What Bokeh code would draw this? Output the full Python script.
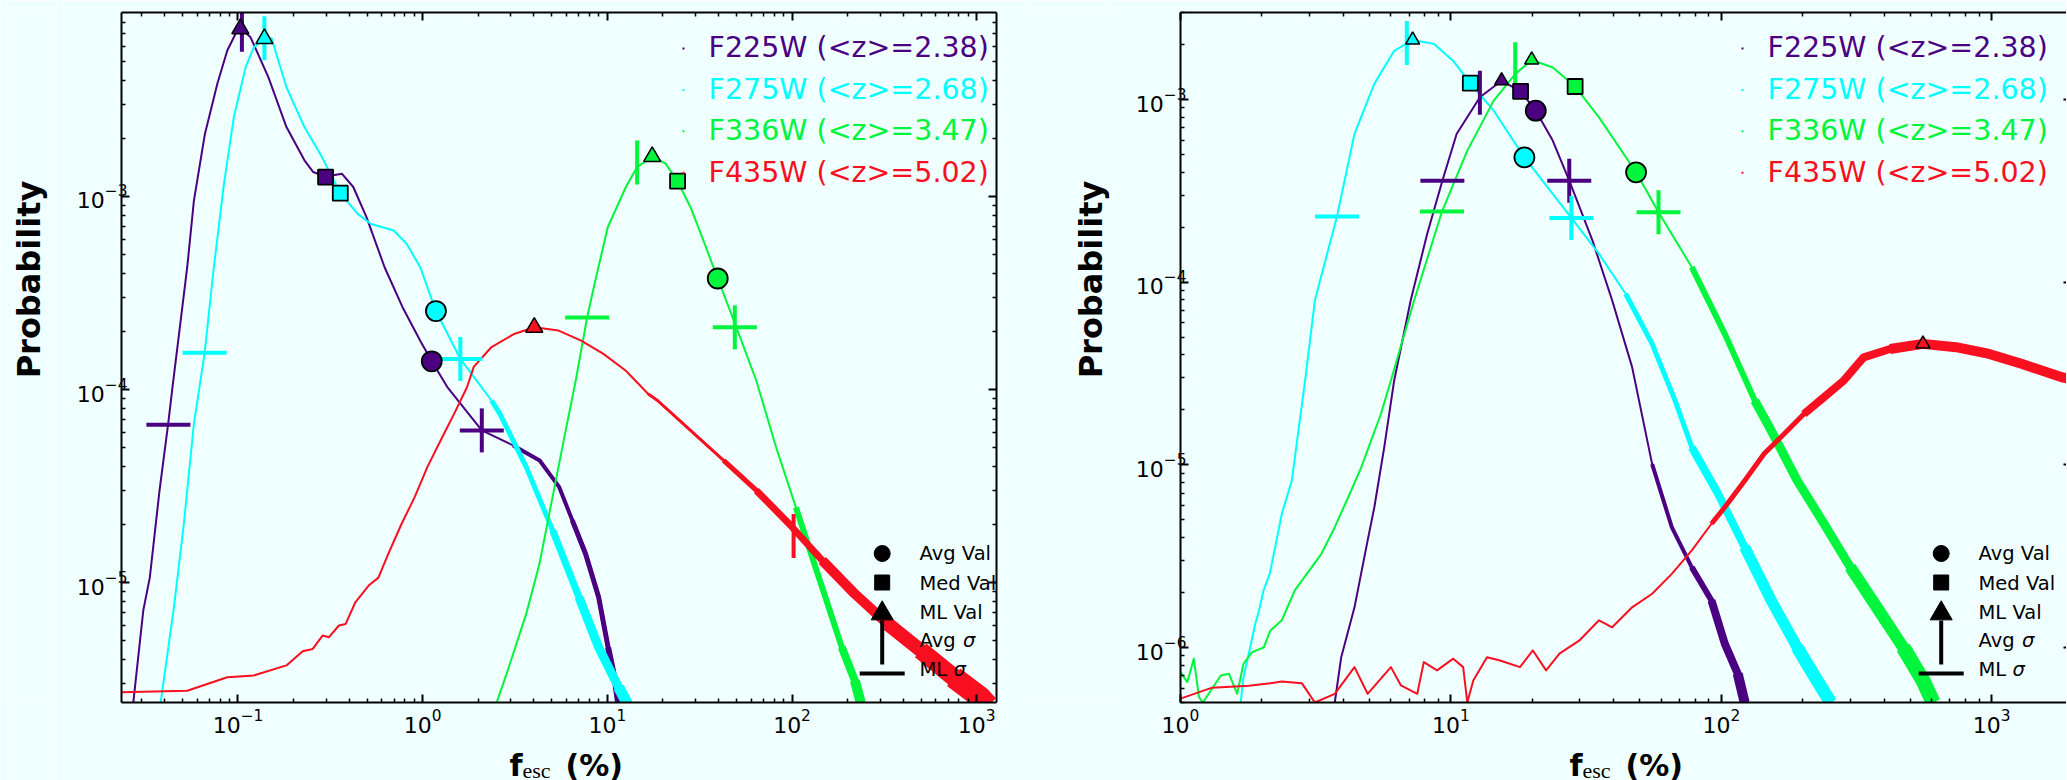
import math
from bokeh.plotting import figure
from bokeh.layouts import row, column
from bokeh.models import Range1d, LogAxis, FixedTicker, Label, BoxAnnotation
from bokeh.embed import file_html
from bokeh.resources import INLINE

# ---------------------------------------------------------------- filters
FILTERS = ["F225W", "F275W", "F336W", "F435W"]
Z_MEAN = [2.38, 2.68, 3.47, 5.02]
COLORS = ["#4B0082", "#00FFFF", "#00F53C", "#F81020"]
COLOR = dict(zip(FILTERS, COLORS))

# ---------------------------------------------------------------- left panel curves
L_F225W_X = [0.0271, 0.0307, 0.0333, 0.0376, 0.0419, 0.0441, 0.0531, 0.0577, 0.0662, 0.0773,
             0.0875, 0.099, 0.105, 0.117, 0.146, 0.183, 0.229, 0.255, 0.298, 0.366, 0.421,
             0.497, 0.622, 0.778, 0.97, 1.12, 1.36, 2.09, 3.09, 4.3, 5.49, 6.46, 7.62, 8.97,
             10.1, 11.0, 11.5]
L_F225W_Y = [2.38e-6, 7.16e-6, 1.06e-5, 3.0e-5, 6.67e-5, 1.01e-4, 4.3e-4, 9.5e-4, 2.11e-3, 3.84e-3,
             5.71e-3, 7.24e-3, 7.35e-3, 6.68e-3, 4.15e-3, 2.29e-3, 1.54e-3, 1.34e-3, 1.27e-3, 1.31e-3,
             1.12e-3, 7.8e-4, 4.3e-4, 2.67e-4, 1.79e-4, 1.40e-4, 1.03e-4, 6.14e-5, 5.13e-5, 4.29e-5,
             3.12e-5, 2.1e-5, 1.41e-5, 8.4e-6, 4.6e-6, 3.1e-6, 2.3e-6]

L_F275W_X = [0.0381, 0.045, 0.0509, 0.0577, 0.066, 0.074, 0.0839, 0.095, 0.11, 0.122, 0.139,
             0.152, 0.183, 0.229, 0.285, 0.358, 0.445, 0.526, 0.696, 0.819, 0.97, 1.18, 1.60,
             2.36, 2.62, 3.64, 5.06, 7.02, 8.97, 11.5, 13.0]
L_F275W_Y = [2.38e-6, 7.45e-6, 2.01e-5, 6.64e-5, 1.55e-4, 4.3e-4, 1.16e-3, 2.58e-3, 4.68e-3, 5.94e-3,
             6.57e-3, 6.6e-3, 3.68e-3, 2.29e-3, 1.6e-3, 1.04e-3, 8.13e-4, 7.2e-4, 6.67e-4, 5.69e-4,
             4.3e-4, 2.55e-4, 1.44e-4, 8.77e-5, 7.48e-5, 3.96e-5, 1.86e-5, 8.4e-6, 4.62e-6, 2.87e-6,
             2.3e-6]

L_F336W_X = [2.52, 2.85, 3.64, 4.29, 5.05, 5.95, 6.74, 7.77, 8.53, 10.05, 12.6, 14.5, 17.5, 20.7,
             24.0, 28.2, 32.1, 39.6, 48.2, 64.1, 82.0, 105, 134, 158, 186, 219, 238]
L_F336W_Y = [2.4e-6, 3.37e-6, 6.9e-6, 1.25e-5, 2.77e-5, 6.14e-5, 1.11e-4, 2.36e-4, 3.53e-4, 6.93e-4,
             1.12e-3, 1.42e-3, 1.61e-3, 1.48e-3, 1.2e-3, 8.8e-4, 6.41e-4, 3.76e-4, 2.3e-4, 1.11e-4,
             5.02e-5, 2.45e-5, 1.2e-5, 7.45e-6, 4.62e-6, 3.1e-6, 2.3e-6]

L_F435W_X = [0.0234, 0.0531, 0.0875, 0.1215, 0.183, 0.224, 0.254, 0.287, 0.311, 0.352, 0.383,
             0.432, 0.51, 0.576, 0.652, 0.768, 0.905, 1.06, 1.25, 1.48, 1.74, 1.89, 2.36, 3.13,
             4.02, 5.45, 7.21, 9.52, 12.6, 16.6, 18.7, 28.2, 42.6, 64.1, 96.6, 146, 219, 330,
             497, 750, 1040, 1150]
L_F435W_Y = [2.7e-6, 2.75e-6, 3.23e-6, 3.3e-6, 3.72e-6, 4.41e-6, 4.53e-6, 5.31e-6, 5.21e-6, 5.99e-6,
             6.1e-6, 7.9e-6, 9.65e-6, 1.06e-5, 1.41e-5, 2.01e-5, 2.77e-5, 3.96e-5, 5.44e-5, 7.48e-5,
             1.03e-4, 1.31e-4, 1.66e-4, 1.94e-4, 2.1e-4, 2.02e-4, 1.79e-4, 1.53e-4, 1.25e-4, 9.5e-5,
             8.77e-5, 6.14e-5, 4.29e-5, 3.0e-5, 2.01e-5, 1.3e-5, 8.73e-6, 6.1e-6, 4.45e-6, 3.23e-6,
             2.55e-6, 2.3e-6]

# ---------------------------------------------------------------- left panel statistics
L_AVG_F = ["F225W", "F275W", "F336W"]
L_AVG_X = [1.12, 1.18, 39.6]
L_AVG_Y = [1.40e-4, 2.55e-4, 3.76e-4]

L_MED_F = ["F225W", "F275W", "F336W"]
L_MED_X = [0.298, 0.358, 24.0]
L_MED_Y = [1.26e-3, 1.04e-3, 1.2e-3]

L_ML_F = ["F225W", "F275W", "F336W", "F435W"]
L_ML_X = [0.103, 0.139, 17.5, 4.02]
L_ML_Y = [7.4e-3, 6.57e-3, 1.61e-3, 2.1e-4]

L_ASIG_F = ["F225W", "F225W", "F275W", "F275W", "F336W", "F336W", "F435W"]
L_ASIG_X = [0.105, 2.09, 0.139, 1.60, 14.5, 49.0, 102]
L_ASIG_Y = [7.3e-3, 6.14e-5, 6.6e-3, 1.44e-4, 1.5e-3, 2.1e-4, 1.74e-5]

L_MSIG_F = ["F225W", "F225W", "F275W", "F275W", "F336W", "F336W"]
L_MSIG_X = [0.042, 2.09, 0.066, 1.60, 7.77, 49.0]
L_MSIG_Y = [6.56e-5, 6.14e-5, 1.55e-4, 1.44e-4, 2.36e-4, 2.1e-4]

# ---------------------------------------------------------------- right panel curves
R_F225W_X = [3.72, 3.93, 4.4, 4.92, 5.21, 5.67, 6.17, 7.1, 8.17, 9.3, 10.5, 12.8, 15.4, 18.1,
             20.6, 23.8, 27.4, 33.4, 39.5, 46.8, 55.5, 65.6, 77.8, 92.0, 103, 115, 122]
R_F225W_Y = [5.0e-7, 8.85e-7, 1.66e-6, 3.85e-6, 5.86e-6, 1.25e-5, 2.9e-5, 7.94e-5, 1.84e-4, 3.6e-4,
             6.49e-4, 1.03e-3, 1.27e-3, 1.11e-3, 8.7e-4, 5.97e-4, 3.6e-4, 1.69e-4, 7.94e-5, 3.43e-5,
             1.01e-5, 4.56e-6, 2.75e-6, 1.81e-6, 1.05e-6, 7.2e-7, 5.0e-7]

R_F275W_X = [1.67, 1.71, 1.81, 1.89, 1.94, 2.03, 2.14, 2.37, 2.58, 2.73, 2.89, 3.14, 3.79, 4.4,
             5.21, 6.17, 7.22, 8.65, 10.2, 11.8, 14.4, 18.7, 23.8, 27.9, 35.3, 44.3, 55.5, 67.5,
             77.8, 97.3, 122, 153, 191, 226, 254]
R_F275W_Y = [5.02e-7, 6.88e-7, 1.0e-6, 1.35e-6, 1.54e-6, 2.06e-6, 2.54e-6, 5.4e-6, 8.2e-6, 1.54e-5,
             2.9e-5, 7.94e-5, 2.29e-4, 6.49e-4, 1.22e-3, 1.85e-3, 2.12e-3, 2.02e-3, 1.63e-3, 1.23e-3,
             8.7e-4, 4.83e-4, 3.05e-4, 2.25e-4, 1.43e-4, 8.65e-5, 4.6e-5, 2.25e-5, 1.25e-5, 6.95e-6,
             3.55e-6, 1.81e-6, 1.0e-6, 6.6e-7, 5.0e-7]

R_F336W_X = [1.0, 1.06, 1.12, 1.17, 1.21, 1.41, 1.51, 1.62, 1.71, 1.84, 2.03, 2.15, 2.37, 2.65,
             3.32, 3.72, 4.28, 4.66, 5.51, 6.0, 7.31, 9.27, 11.5, 14.4, 17.3, 19.9, 23.8, 28.8,
             35.3, 48.4, 58.6, 77.8, 103, 133, 153, 191, 240, 300, 376, 471, 557, 607]
R_F336W_Y = [7.33e-7, 6.47e-7, 8.69e-7, 5.36e-7, 5.0e-7, 7.03e-7, 7.19e-7, 5.58e-7, 8.15e-7, 9.44e-7,
             1.0e-6, 1.24e-6, 1.41e-6, 2.06e-6, 3.26e-6, 4.56e-6, 7.24e-6, 9.7e-6, 1.9e-5, 2.9e-5,
             7.94e-5, 2.44e-4, 5.26e-4, 9.88e-4, 1.38e-3, 1.65e-3, 1.5e-3, 1.18e-3, 8.0e-4, 4.0e-4,
             2.42e-4, 1.21e-4, 5.22e-5, 2.25e-5, 1.54e-5, 8.2e-6, 4.76e-6, 2.75e-6, 1.66e-6, 1.0e-6,
             6.6e-7, 5.0e-7]

R_F435W_X = [1.0, 1.31, 1.79, 2.15, 2.37, 2.81, 3.14, 3.72, 4.4, 4.92, 6.0, 6.53, 7.51, 7.94,
             8.89, 10.2, 11.1, 11.5, 12.1, 13.6, 15.2, 18.0, 20.1, 22.5, 25.2, 29.8, 35.3, 39.5,
             46.8, 55.5, 65.6, 77.8, 92.0, 103, 122, 144, 171, 202, 240, 284, 336, 421, 557, 738,
             979, 1297, 1818, 1900]
R_F435W_Y = [5.25e-7, 6.03e-7, 6.18e-7, 6.38e-7, 6.52e-7, 6.38e-7, 5.0e-7, 5.58e-7, 7.81e-7, 5.58e-7,
             7.81e-7, 6.21e-7, 5.58e-7, 8.32e-7, 7.5e-7, 8.69e-7, 7.81e-7, 5.0e-7, 6.6e-7, 8.85e-7,
             8.49e-7, 7.81e-7, 9.64e-7, 7.5e-7, 9.25e-7, 1.09e-6, 1.41e-6, 1.29e-6, 1.66e-6, 1.97e-6,
             2.53e-6, 3.4e-6, 4.76e-6, 5.86e-6, 8.2e-6, 1.15e-5, 1.48e-5, 1.9e-5, 2.35e-5, 2.9e-5,
             3.88e-5, 4.31e-5, 4.6e-5, 4.41e-5, 4.05e-5, 3.57e-5, 3.02e-5, 2.98e-5]

# ---------------------------------------------------------------- right panel statistics
R_AVG_F = ["F225W", "F275W", "F336W"]
R_AVG_X = [20.6, 18.7, 48.4]
R_AVG_Y = [8.7e-4, 4.83e-4, 4.0e-4]

R_MED_F = ["F225W", "F275W", "F336W"]
R_MED_X = [18.1, 11.8, 28.8]
R_MED_Y = [1.11e-3, 1.23e-3, 1.18e-3]

R_ML_F = ["F225W", "F275W", "F336W", "F435W"]
R_ML_X = [15.4, 7.22, 19.9, 557]
R_ML_Y = [1.27e-3, 2.12e-3, 1.65e-3, 4.6e-5]

R_ASIG_F = ["F225W", "F225W", "F275W", "F275W", "F336W", "F336W"]
R_ASIG_X = [12.8, 27.4, 6.87, 27.9, 17.3, 58.6]
R_ASIG_Y = [1.09e-3, 3.6e-4, 2.04e-3, 2.25e-4, 1.56e-3, 2.42e-4]

R_MSIG_F = ["F225W", "F225W", "F275W", "F275W", "F336W", "F336W"]
R_MSIG_X = [9.3, 27.4, 3.79, 27.9, 9.27, 58.6]
R_MSIG_Y = [3.6e-4, 3.6e-4, 2.29e-4, 2.25e-4, 2.44e-4, 2.42e-4]

KEY_LABELS = ["Avg Val", "Med Val", "ML Val", "Avg", "ML"]

# ---------------------------------------------------------------- styling
BG = "#F0FFFF"
FRAME_H = 690
FIG_H = 780
TITLE_H = 100          # transparent strip laid over the bottom of the plots
FONT = "DejaVu Sans"


def decade_ticker(lo, hi):
    majors = [10.0 ** k for k in range(lo, hi + 1)]
    minors = [m * 10.0 ** k for k in range(lo - 1, hi + 1) for m in range(2, 10)]
    return FixedTicker(ticks=majors, minor_ticks=minors)


def style_axis(ax, lo, hi, labels, tick_in=8, minor_in=4, line=True, standoff=8):
    ax.ticker = decade_ticker(lo, hi)
    ax.major_tick_in = tick_in
    ax.major_tick_out = 0
    ax.minor_tick_in = minor_in
    ax.minor_tick_out = 0
    ax.major_tick_line_width = 2
    ax.minor_tick_line_width = 1.5
    ax.major_tick_line_color = "black"
    ax.minor_tick_line_color = "black"
    ax.axis_line_width = 2
    ax.axis_line_color = "black" if line else None
    if labels:
        ax.major_label_text_font = FONT
        ax.major_label_text_font_size = "22px"
        ax.major_label_text_color = "black"
        ax.major_label_standoff = standoff
    else:
        ax.major_label_text_font_size = "0px"
        ax.major_label_text_alpha = 0
        ax.major_label_standoff = 0


def make_panel(xr, yr, frame_w, border_left, border_right, xdec, ydec, right_edge_cut):
    p = figure(x_axis_type="log", y_axis_type="log",
               x_range=Range1d(*xr), y_range=Range1d(*yr),
               frame_width=frame_w, frame_height=FRAME_H,
               min_border_left=border_left, min_border_right=border_right,
               min_border_top=12, min_border_bottom=FIG_H - 12 - FRAME_H,
               background_fill_color=BG, border_fill_color=BG,
               outline_line_color=None, toolbar_location=None,
               output_backend="svg")
    p.grid.visible = False
    style_axis(p.xaxis[0], *xdec, labels=True, standoff=6)
    style_axis(p.yaxis[0], *ydec, labels=True, standoff=-6)
    top = LogAxis()
    style_axis(top, *xdec, labels=False)
    p.add_layout(top, "above")
    right = LogAxis()
    if right_edge_cut:
        style_axis(right, *ydec, labels=False, tick_in=3, minor_in=0, line=False)
    else:
        style_axis(right, *ydec, labels=False)
    p.add_layout(right, "right")
    return p


def strip(width, height, transparent=False):
    """A bare figure whose frame covers its whole area, used to hold axis titles."""
    s = figure(width=width, height=height, x_range=Range1d(0, 1), y_range=Range1d(0, 1),
               x_axis_location=None, y_axis_location=None, min_border=0,
               background_fill_color=BG, border_fill_color=BG, outline_line_color=None,
               toolbar_location=None, output_backend="svg")
    s.title.visible = False
    if transparent:
        s.background_fill_alpha = 0
        s.border_fill_alpha = 0
    s.grid.visible = False
    return s


def draw_curves(p, curves, bands):
    for f, (xs, ys) in zip(FILTERS, curves):
        p.line(xs, ys, line_color=COLOR[f], line_width=2, line_join="round")
        for bf, start, width in bands:
            if bf != f:
                continue
            pts = [(x, y) for x, y in zip(xs, ys) if x >= start]
            p.line([q[0] for q in pts], [q[1] for q in pts], line_color=COLOR[f],
                   line_width=width, line_join="round", line_cap="butt")


def draw_stats(p, avg, med, ml, asig, msig, tri_size):
    fs, xs, ys = asig
    p.scatter(xs, ys, marker="dash", angle=math.pi / 2, size=44, line_width=4,
              line_color=[COLOR[f] for f in fs])
    fs, xs, ys = msig
    p.scatter(xs, ys, marker="dash", size=44, line_width=4,
              line_color=[COLOR[f] for f in fs])
    fs, xs, ys = avg
    p.scatter(xs, ys, marker="circle", size=20, line_color="black", line_width=1.8,
              fill_color=[COLOR[f] for f in fs])
    fs, xs, ys = med
    p.scatter(xs, ys, marker="square", size=15, line_color="black", line_width=1.8,
              fill_color=[COLOR[f] for f in fs])
    fs, xs, ys = ml
    p.scatter(xs, ys, marker="triangle", size=tri_size, line_color="black", line_width=1.5,
              fill_color=[COLOR[f] for f in fs])


def frame_point(xr, yr, frame_w, sx, sy_top):
    """Data coordinates of a point given in frame pixels (from left, from top)."""
    lx0, lx1 = math.log10(xr[0]), math.log10(xr[1])
    ly0, ly1 = math.log10(yr[0]), math.log10(yr[1])
    return (10 ** (lx0 + sx / frame_w * (lx1 - lx0)),
            10 ** (ly1 - sy_top / FRAME_H * (ly1 - ly0)))


def decorate(p, xr, yr, frame_w):
    # filter legend, upper right
    for i, (f, z) in enumerate(zip(FILTERS, Z_MEAN)):
        base = 654.7 - 41.4 * i
        p.add_layout(Label(x=587, y=base, x_units="screen", y_units="screen",
                           text=f"{f} (<z>={z:.2f})", text_font=FONT, text_font_size="28.5px",
                           text_color=COLOR[f], text_baseline="alphabetic", text_align="left"))
        cy = 654 - 41.4 * i
        p.add_layout(BoxAnnotation(left=561, right=563, bottom=cy - 1, top=cy + 1,
                                   left_units="screen", right_units="screen",
                                   bottom_units="screen", top_units="screen",
                                   fill_color=COLOR[f], fill_alpha=1.0, line_color=None))

    # statistic key, lower right
    kx = 760.7
    cx, cy = frame_point(xr, yr, frame_w, kx, 541)
    p.scatter([cx], [cy], marker="circle", size=16, fill_color="black", line_color="black")
    sx_, sy_ = frame_point(xr, yr, frame_w, kx, 570)
    p.scatter([sx_], [sy_], marker="square", size=15, fill_color="black", line_color="black")
    vx, vy = frame_point(xr, yr, frame_w, kx, 630)
    p.scatter([vx], [vy], marker="dash", angle=math.pi / 2, size=44, line_width=4,
              line_color="black")
    tx, ty = frame_point(xr, yr, frame_w, kx, 601)
    p.scatter([tx], [ty], marker="triangle", size=22, fill_color="black", line_color="black")
    hx, hy = frame_point(xr, yr, frame_w, kx, 661)
    p.scatter([hx], [hy], marker="dash", size=45, line_width=4, line_color="black")

    bases = [148.8, 119.5, 90.2, 61.8, 32.8]
    for lab, b in zip(KEY_LABELS, bases):
        p.add_layout(Label(x=798, y=b, x_units="screen", y_units="screen", text=lab,
                           text_font=FONT, text_font_size="19.5px", text_color="black",
                           text_baseline="alphabetic"))
    p.add_layout(Label(x=798 + 43.5, y=bases[3], x_units="screen", y_units="screen", text="σ",
                       text_font=FONT, text_font_style="italic", text_font_size="19.5px",
                       text_color="black", text_baseline="alphabetic"))
    p.add_layout(Label(x=798 + 34.0, y=bases[4], x_units="screen", y_units="screen", text="σ",
                       text_font=FONT, text_font_style="italic", text_font_size="19.5px",
                       text_color="black", text_baseline="alphabetic"))


def y_title(s, center_x):
    s.add_layout(Label(x=center_x, y=FIG_H - 357, x_units="screen", y_units="screen",
                       text="Probability", angle=math.pi / 2, text_align="center",
                       text_baseline="middle", text_font=FONT, text_font_style="bold",
                       text_font_size="32px", text_color="black"))


def x_title(s, left):
    base = 15
    s.add_layout(Label(x=left, y=base, x_units="screen", y_units="screen", text="f",
                       text_font=FONT, text_font_style="bold", text_font_size="30px",
                       text_color="black", text_baseline="alphabetic"))
    s.add_layout(Label(x=left + 13, y=base - 5, x_units="screen", y_units="screen", text="esc",
                       text_font="Liberation Serif", text_font_size="22px",
                       text_color="black", text_baseline="alphabetic"))
    s.add_layout(Label(x=left + 56, y=base, x_units="screen", y_units="screen", text="(%)",
                       text_font=FONT, text_font_style="bold", text_font_size="30px",
                       text_color="black", text_baseline="alphabetic"))


# ---------------------------------------------------------------- left panel
L_XR = (0.0234, 1280.0)
L_YR = (2.39e-6, 8.98e-3)
L_FW = 875
p1 = make_panel(L_XR, L_YR, L_FW, 65, 34, (-2, 3), (-6, -2), right_edge_cut=False)
draw_curves(p1,
            [(L_F225W_X, L_F225W_Y), (L_F275W_X, L_F275W_Y),
             (L_F336W_X, L_F336W_Y), (L_F435W_X, L_F435W_Y)],
            [("F225W", 3.0, 4), ("F225W", 6.0, 5), ("F225W", 9.0, 6),
             ("F275W", 2.2, 5), ("F275W", 4.0, 7), ("F275W", 7.0, 9), ("F275W", 10.0, 11),
             ("F336W", 100, 6), ("F336W", 170, 8), ("F336W", 215, 10),
             ("F435W", 15, 3), ("F435W", 30, 5), ("F435W", 60, 7), ("F435W", 120, 10),
             ("F435W", 250, 14), ("F435W", 480, 18), ("F435W", 740, 22)])
draw_stats(p1, (L_AVG_F, L_AVG_X, L_AVG_Y), (L_MED_F, L_MED_X, L_MED_Y),
           (L_ML_F, L_ML_X, L_ML_Y), (L_ASIG_F, L_ASIG_X, L_ASIG_Y),
           (L_MSIG_F, L_MSIG_X, L_MSIG_Y), tri_size=17)
decorate(p1, L_XR, L_YR, L_FW)

# ---------------------------------------------------------------- right panel
R_XR = (1.0, 1891.0)
R_YR = (5.0e-7, 3.0e-3)
R_FW = 886
p2 = make_panel(R_XR, R_YR, R_FW, 70, 0, (0, 4), (-7, -2), right_edge_cut=True)
draw_curves(p2,
            [(R_F225W_X, R_F225W_Y), (R_F275W_X, R_F275W_Y),
             (R_F336W_X, R_F336W_Y), (R_F435W_X, R_F435W_Y)],
            [("F225W", 50, 4), ("F225W", 70, 6), ("F225W", 90, 8), ("F225W", 110, 10),
             ("F275W", 40, 5), ("F275W", 70, 8), ("F275W", 120, 11), ("F275W", 180, 13),
             ("F336W", 70, 6), ("F336W", 120, 9), ("F336W", 250, 12), ("F336W", 400, 15),
             ("F435W", 90, 5), ("F435W", 200, 8), ("F435W", 400, 10)])
draw_stats(p2, (R_AVG_F, R_AVG_X, R_AVG_Y), (R_MED_F, R_MED_X, R_MED_Y),
           (R_ML_F, R_ML_X, R_ML_Y), (R_ASIG_F, R_ASIG_X, R_ASIG_Y),
           (R_MSIG_F, R_MSIG_X, R_MSIG_Y), tri_size=14)
decorate(p2, R_XR, R_YR, R_FW)

# ---------------------------------------------------------------- axis titles
ya = strip(56, FIG_H)
y_title(ya, 28)
yb = strip(80, FIG_H)
y_title(yb, 1090 - 1030)
xb = strip(2066, TITLE_H, transparent=True)
xb.margin = (-TITLE_H, 0, 0, 0)
x_title(xb, 509)
x_title(xb, 1569)

layout = column(row(ya, p1, yb, p2), xb)
open("out.html", "w").write(file_html(layout, INLINE))
